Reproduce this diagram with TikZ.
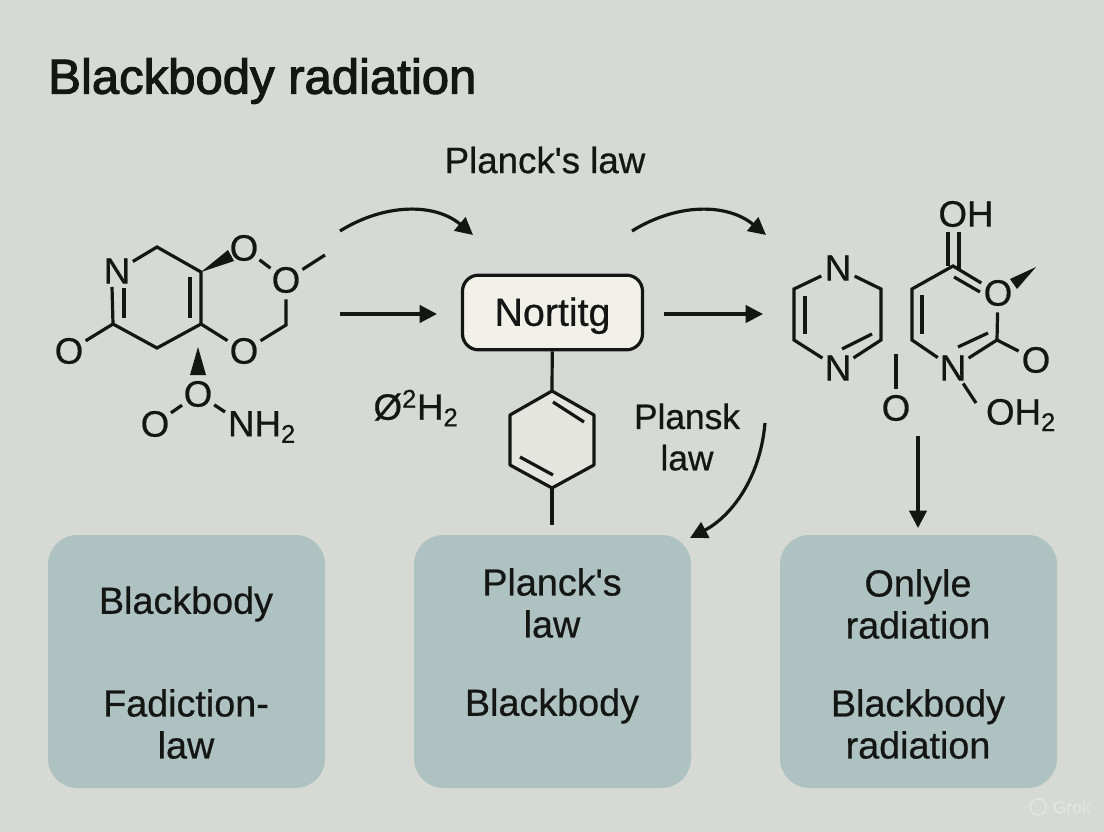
\documentclass[tikz,border=0pt]{standalone}
\usepackage{fontspec}
\setmainfont[FakeBold=0.6]{Liberation Sans}
\newfontfamily\titlefont[FakeBold=2.2]{Liberation Sans}
\usetikzlibrary{arrows.meta, positioning}
\definecolor{pagebg}{HTML}{D7DAD4}
\definecolor{cardfill}{HTML}{AFC2C2}
\definecolor{boxfill}{HTML}{F1F1EA}
\definecolor{ringfill}{HTML}{E4E5DE}
\definecolor{inkdark}{HTML}{141614}
\definecolor{grokgrey}{HTML}{E3E5E0}

\begin{document}
\begin{tikzpicture}[
  x=0.75pt, y=-0.75pt,
  every node/.style={font=\fontsize{27.5}{31.5}\selectfont, text=inkdark},
  atom/.style={circle, inner sep=0pt, minimum size=27pt},
  card/.style={fill=cardfill, rounded corners=22pt, minimum width=207.75pt, minimum height=189.75pt},
  lbl/.style={align=center},
  cardlbl/.style={align=center, font=\fontsize{28.3}{31.5}\selectfont},
  bond/.style={line width=2.4pt, draw=inkdark},
  wedge/.style={fill=inkdark},
  arr/.style={-{Triangle[length=13pt,width=13pt]}, line width=2.4pt, draw=inkdark}
]
  \useasboundingbox[fill=pagebg] (0,0) rectangle (1104,832);

  \node[font=\titlefont\fontsize{36.8}{40}\selectfont, anchor=west, inner sep=0pt] (title) at (48,81) {Blackbody radiation};

  % cards
  \node[card] (cardA) at (186.5,661.5) {};
  \node[card] (cardB) at (552.5,661.5) {};
  \node[card] (cardC) at (918.5,661.5) {};
  \node[cardlbl] (cardAtop) at (186,604) {Blackbody};
  \node[cardlbl] (cardAbot) at (186,724) {Fadiction-\\law};
  \node[cardlbl] (cardBtop) at (552,603) {Planck\textquotesingle s\\law};
  \node[cardlbl] (cardBbot) at (552,706) {Blackbody};
  \node[cardlbl] (cardCtop) at (918,604) {Onlyle\\radiation};
  \node[cardlbl] (cardCbot) at (918,724) {Blackbody\\radiation};

  % left molecule
  \node[atom] (lN) at (117,271) {N};
  \coordinate (lC1) at (157,247);
  \coordinate (lC2) at (201,272);
  \coordinate (lC3) at (201,324);
  \coordinate (lC4) at (157,348);
  \coordinate (lC5) at (113,324);
  \node[atom] (lO1) at (69,351) {O};
  \node[atom] (lO2) at (244,248) {O};
  \node[atom] (lO3) at (286,280) {O};
  \coordinate (lC6) at (286,325);
  \node[atom] (lO4) at (244,351) {O};
  \coordinate (lMe) at (325,255);
  \node[atom] (lO5) at (198,394) {O};
  \node[atom] (lO6) at (155,424) {O};
  \node[lbl] (lNH) at (262,427) {NH\textsubscript{2}};
  \coordinate (lNHend) at (225,412);
  \coordinate (lIn1) at (124,288);
  \coordinate (lIn2) at (124,318);
  \coordinate (lIn3) at (190,277);
  \coordinate (lIn4) at (190,318);
  \coordinate (lN2) at (112,287);

  \draw[bond] (lN) -- (lC1) -- (lC2) -- (lC3) -- (lC4) -- (lC5) -- (lN2);
  \draw[bond] (lIn1) -- (lIn2);
  \draw[bond] (lIn3) -- (lIn4);
  \draw[bond] (lC5) -- (lO1);
  \draw[bond] (lC3) -- (lO4) -- (lC6) -- (lO3) -- (lO2);
  \draw[bond] (lO3) -- (lMe);
  \draw[bond] (lO6) -- (lO5) -- (lNHend);
  \fill[wedge] (201,272) -- (228,250) -- (234,261) -- cycle;
  \fill[wedge] (198,347) -- (206,375) -- (190,375) -- cycle;

  % centre box and ring
  \node[draw=inkdark, line width=2.4pt, fill=boxfill, rounded corners=12pt, minimum width=135pt, minimum height=56pt, text height=21pt, text depth=1pt, font=\fontsize{29.5}{32}\selectfont] (nortitg) at (552.5,312.5) {Nortitg};
  \coordinate (rC1) at (552,391);
  \coordinate (rC2) at (594,415);
  \coordinate (rC3) at (594,465);
  \coordinate (rC4) at (552,488);
  \coordinate (rC5) at (510,465);
  \coordinate (rC6) at (510,415);
  \coordinate (rTail) at (552,525);
  \draw[bond, fill=ringfill, line join=round] (rC1) -- (rC2) -- (rC3) -- (rC4) -- (rC5) -- (rC6) -- cycle;
  \draw[bond] (nortitg) -- (rC1);
  \draw[bond] (rC4) -- (rTail);
  \coordinate (rIn1) at (553,402);
  \coordinate (rIn2) at (584,422);
  \coordinate (rIn3) at (520,457);
  \coordinate (rIn4) at (553,475);
  \draw[bond] (rIn1) -- (rIn2);
  \draw[bond] (rIn3) -- (rIn4);

  % right molecules
  \node[atom] (pN1) at (838,268) {N};
  \coordinate (pC1) at (881,289);
  \coordinate (pC2) at (881,340);
  \node[atom] (pN2) at (838,368) {N};
  \coordinate (pC3) at (794,340);
  \coordinate (pC4) at (794,289);
  \coordinate (pIn1) at (805,296);
  \coordinate (pIn2) at (805,334);
  \coordinate (pIn3) at (842,349);
  \coordinate (pIn4) at (872,334);
  \draw[bond] (pN1) -- (pC1) -- (pC2) -- (pN2) -- (pC3) -- (pC4) -- (pN1);
  \draw[bond] (pIn1) -- (pIn2);
  \draw[bond] (pIn3) -- (pIn4);

  \node[atom] (sO) at (896,408) {O};
  \coordinate (sTop) at (896,354);
  \draw[bond] (sTop) -- (sO);

  \node[lbl] (qOH) at (966,214) {OH};
  \coordinate (qC1) at (953,266);
  \coordinate (qC2) at (912,289);
  \coordinate (qC3) at (912,340);
  \node[atom] (qN) at (953,368) {N};
  \coordinate (qC4) at (997,340);
  \node[atom] (qO1) at (998,293) {O};
  \node[atom] (qO2) at (1036,360) {O};
  \node[lbl] (qOH2) at (1021,415) {OH\textsubscript{2}};
  \coordinate (qEnd) at (976,403);
  \coordinate (qD1) at (948,232);
  \coordinate (qD2) at (948,266);
  \coordinate (qD3) at (959,232);
  \coordinate (qD4) at (959,269);
  \coordinate (qIn1) at (954,277);
  \coordinate (qIn2) at (980,292);
  \coordinate (qIn3) at (922,295);
  \coordinate (qIn4) at (922,334);
  \coordinate (qIn5) at (958,347);
  \coordinate (qIn6) at (988,333);
  \draw[bond] (qO1) -- (qC1) -- (qC2) -- (qC3) -- (qN) -- (qC4) -- (qO1);
  \draw[bond] (qC4) -- (qO2);
  \draw[bond] (qN) -- (qEnd);
  \draw[bond] (qD1) -- (qD2);
  \draw[bond] (qD3) -- (qD4);
  \draw[bond] (qIn1) -- (qIn2);
  \draw[bond] (qIn3) -- (qIn4);
  \draw[bond] (qIn5) -- (qIn6);
  \fill[wedge] (1036,267) -- (1010,279) -- (1017,289) -- cycle;

  % arrows and their labels
  \node[lbl] (planckTop) at (545,160) {Planck\textquotesingle s law};
  \node[lbl] (oxy) at (416,408) {Ø\textsuperscript{2}H\textsubscript{2}};
  \node[lbl, font=\fontsize{26.5}{31}\selectfont] (plansk) at (687,437) {Plansk\\law};

  \coordinate (a1s) at (340,231);
  \coordinate (a1e) at (473,235);
  \coordinate (a2s) at (632,231);
  \coordinate (a2e) at (766,235);
  \coordinate (a3s) at (340,314);
  \coordinate (a3e) at (437,314);
  \coordinate (a4s) at (664,314);
  \coordinate (a4e) at (763,314);
  \coordinate (a5s) at (765,423);
  \coordinate (a5e) at (690,538);
  \coordinate (a6s) at (918,436);
  \coordinate (a6e) at (918,528);
  \draw[arr] (a1s) .. controls (385,203) and (435,203) .. (a1e);
  \draw[arr] (a2s) .. controls (677,203) and (727,203) .. (a2e);
  \draw[arr] (a3s) -- (a3e);
  \draw[arr] (a4s) -- (a4e);
  \draw[arr] (a5s) .. controls (760,480) and (730,517) .. (a5e);
  \draw[arr] (a6s) -- (a6e);

  % watermark
  \node[circle, draw=grokgrey, line width=1.2pt, minimum size=12pt, inner sep=0pt] (grokIcon) at (1038,807) {};
  \node[font=\fontsize{13}{15}\selectfont, text=grokgrey, right=1pt of grokIcon] (grok) {Grok};
\end{tikzpicture}
\end{document}
